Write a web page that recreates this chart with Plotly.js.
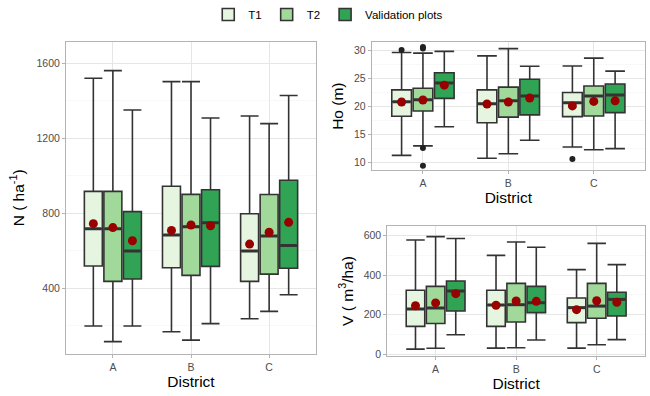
<!DOCTYPE html>
<html>
<head>
<meta charset="utf-8">
<script src="https://cdn.plot.ly/plotly-3.0.1.min.js"></script>
<style>html,body{margin:0;padding:0;background:#fff}#chart{width:650px;height:396px}</style>
</head>
<body>
<div id="chart"></div>
<script>
// ---------- data ----------
const districts = ['A', 'B', 'C'];
const seriesNames = ['T1', 'T2', 'Validation plots'];
const seriesColors = ['#e5f5e0', '#a1d99b', '#31a354'];

// N (ha^-1)
const N_lower  = [[199, 169, 238], [116, 124, 277], [199, 212, 366]];
const N_q1     = [[519, 510, 437], [437, 469, 476], [450, 517, 507]];
const N_median = [[718, 684, 599], [718, 729, 679], [599, 750, 628]];
const N_q3     = [[917, 944, 798], [917, 901, 900], [809, 926, 976]];
const N_upper  = [[1520, 1502, 1319], [1561, 1502, 1278], [1351, 1308, 1428]];
const N_mean   = [[745, 709, 636], [724, 738, 699], [654, 734, 752]];

// Ho (m)
const Ho_lower  = [[11.3, 10.8, 12.8], [13.0, 11.6, 12.3], [16.4, 14.0, 12.5]];
const Ho_q1     = [[18.25, 17.1, 18.2], [19.2, 18.1, 18.3], [21.45, 18.5, 18.9]];
const Ho_median = [[20.85, 20.5, 20.65], [21.2, 21.0, 21.85], [24.2, 21.85, 22.05]];
const Ho_q3     = [[22.95, 22.95, 22.5], [23.25, 23.45, 23.65], [26.0, 24.85, 24.0]];
const Ho_upper  = [[29.6, 29.0, 27.2], [29.5, 30.3, 28.6], [29.8, 27.15, 26.3]];
const Ho_mean   = [[20.8, 20.45, 20.1], [21.15, 20.8, 20.9], [23.8, 21.5, 21.0]];
// outliers
const Ho_out_T1 = {x: ['A', 'C'], y: [30.05, 10.65]};
const Ho_out_T2 = {x: ['A', 'A', 'A', 'A'], y: [30.6, 30.3, 12.6, 9.45]};

// V (m3/ha)
const V_lower  = [[25, 30, 30], [29, 32, 47], [98, 71, 73]];
const V_q1     = [[140, 140, 159], [155, 162, 181], [218, 210, 193]];
const V_median = [[228, 248, 235], [233, 250, 243], [319, 260, 277]];
const V_q3     = [[323, 323, 284], [343, 358, 358], [370, 343, 313]];
const V_upper  = [[578, 500, 428], [595, 568, 561], [586, 541, 453]];
const V_mean   = [[245, 247, 225], [259, 269, 270], [306, 267, 262]];

// ---------- layout geometry ----------
const W = 650, H = 396;
const BOXGAP = 0.25, BOXGROUPGAP = 0.08;
const panels = {
  x:  [66, 316],
  x2: [371.7, 645],
  x3: [387.3, 645]
};
function boxPx(xa) {
  const p = panels[xa];
  return (p[1] - p[0]) / 3.2 * (1 - BOXGAP) / 3 * (1 - BOXGROUPGAP);
}

// ---------- traces ----------
const traces = [];
const groups = ['g1', 'g2', 'g3'];
function addPanel(xa, ya, lo, q1, med, q3, up, mean, showLegend) {
  for (let s = 0; s < 3; s++) {
    traces.push({
      type: 'box', xaxis: xa, yaxis: ya, name: seriesNames[s],
      x: districts, lowerfence: lo[s], q1: q1[s], median: med[s], q3: q3[s], upperfence: up[s],
      fillcolor: seriesColors[s], line: {color: '#333333', width: 1.6},
      whiskerwidth: 1, offsetgroup: groups[s], legendgroup: seriesNames[s],
      showlegend: showLegend, hoverinfo: 'skip'
    });
  }
  for (let s = 0; s < 3; s++) {
    // thick median bar (ggplot style); 'line-ew' spans 1.4 x size
    traces.push({
      type: 'scatter', mode: 'markers', xaxis: xa, yaxis: ya, name: seriesNames[s] + ' median',
      x: districts, y: med[s], offsetgroup: groups[s],
      marker: {symbol: 'line-ew', size: (boxPx(xa) - 1.5) / 1.4, color: '#333333', line: {color: '#333333', width: 3}},
      showlegend: false, hoverinfo: 'skip'
    });
  }
  for (let s = 0; s < 3; s++) {
    traces.push({
      type: 'scatter', mode: 'markers', xaxis: xa, yaxis: ya, name: seriesNames[s] + ' mean',
      x: districts, y: mean[s], offsetgroup: groups[s],
      marker: {color: '#990000', size: 9}, showlegend: false, hoverinfo: 'skip'
    });
  }
}
addPanel('x', 'y', N_lower, N_q1, N_median, N_q3, N_upper, N_mean, true);
addPanel('x2', 'y2', Ho_lower, Ho_q1, Ho_median, Ho_q3, Ho_upper, Ho_mean, false);
addPanel('x3', 'y3', V_lower, V_q1, V_median, V_q3, V_upper, V_mean, false);
traces.push({type: 'scatter', mode: 'markers', xaxis: 'x2', yaxis: 'y2', x: Ho_out_T1.x, y: Ho_out_T1.y,
  offsetgroup: 'g1', marker: {color: '#222222', size: 6}, showlegend: false, hoverinfo: 'skip'});
traces.push({type: 'scatter', mode: 'markers', xaxis: 'x2', yaxis: 'y2', x: Ho_out_T2.x, y: Ho_out_T2.y,
  offsetgroup: 'g2', marker: {color: '#222222', size: 6}, showlegend: false, hoverinfo: 'skip'});
traces.push({type: 'scatter', mode: 'markers', xaxis: 'x2', yaxis: 'y2', x: [], y: [],
  offsetgroup: 'g3', marker: {color: '#222222', size: 6}, showlegend: false, hoverinfo: 'skip'});

// ---------- layout ----------
const FONT = 'Liberation Sans, Arial, sans-serif';
const tickFont = {family: FONT, size: 10.5, color: '#4d4d4d'};
const titleFont = {family: FONT, size: 15.5, color: '#000000'};
function xax(xa, anchor) {
  const p = panels[xa];
  return {
    domain: [p[0] / W, p[1] / W], anchor: anchor, type: 'category', categoryorder: 'array', categoryarray: districts,
    range: [-0.6, 2.6], showline: true, mirror: true, linecolor: '#b3b3b3', linewidth: 1,
    showgrid: true, gridcolor: '#e6e6e6', gridwidth: 1, ticks: 'outside', ticklen: 3, tickcolor: '#b3b3b3',
    tickfont: tickFont, zeroline: false,
    title: {text: 'District', font: titleFont, standoff: 3}
  };
}
function yax(top, bottom, anchor, range, dtick, title, standoff) {
  return {
    domain: [(H - bottom) / H, (H - top) / H], anchor: anchor, range: range, dtick: dtick,
    showline: true, mirror: true, linecolor: '#b3b3b3', linewidth: 1,
    showgrid: true, gridcolor: '#e6e6e6', gridwidth: 1,
    minor: {showgrid: true, gridcolor: '#f3f3f3', gridwidth: 0.6, dtick: dtick / 2},
    ticks: 'outside', ticklen: 3, tickcolor: '#b3b3b3', tickfont: tickFont, zeroline: false,
    title: {text: title, font: titleFont, standoff: standoff}
  };
}
const layout = {
  width: W, height: H,
  margin: {l: 0, r: 0, t: 0, b: 0},
  paper_bgcolor: '#ffffff', plot_bgcolor: '#ffffff',
  boxmode: 'group', boxgap: BOXGAP, boxgroupgap: BOXGROUPGAP,
  scattermode: 'group', scattergap: BOXGAP,
  showlegend: true,
  legend: {orientation: 'h', x: 0.505, xanchor: 'center', y: 1.0, yanchor: 'top',
    font: {family: FONT, size: 11.5, color: '#000'}, itemwidth: 30},
  xaxis: xax('x', 'y'),
  yaxis: yax(41.7, 354, 'x', [50, 1715], 400, 'N ( ha<sup>-1</sup>)', 8),
  xaxis2: xax('x2', 'y2'),
  yaxis2: yax(42.3, 170, 'x2', [8.7, 31.42], 5, 'Ho (m)', 6),
  xaxis3: xax('x3', 'y3'),
  yaxis3: yax(226, 356, 'x3', [-10, 649], 200, 'V ( m<sup>3</sup>/ha)', 6)
};
Plotly.newPlot('chart', traces, layout, {staticPlot: true});
</script>
</body>
</html>
